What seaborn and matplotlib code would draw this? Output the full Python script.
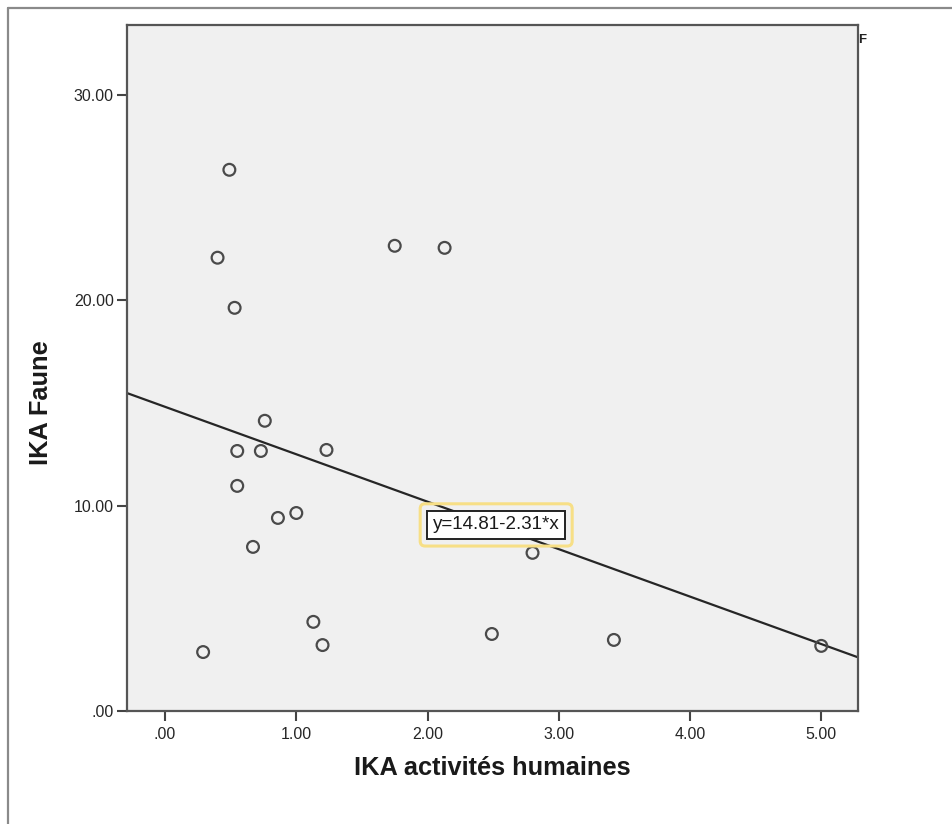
import numpy as np
import pandas as pd
import seaborn as sns
import matplotlib.pyplot as plt
from matplotlib.lines import Line2D
from matplotlib.patches import FancyBboxPatch
from matplotlib.transforms import IdentityTransform

# Survey data: human activity index vs. fauna index
ika_activites = [0.49, 0.40, 0.53, 1.75, 2.13, 0.76, 0.55, 0.73, 1.23, 0.55,
                 0.86, 1.00, 0.67, 2.80, 1.13, 1.20, 0.29, 2.49, 3.42, 5.00]
ika_faune = [26.35, 22.07, 19.63, 22.65, 22.55, 14.13, 12.66, 12.66, 12.71, 10.96,
             9.40, 9.64, 7.99, 7.70, 4.34, 3.21, 2.87, 3.75, 3.46, 3.17]

# Fitted linear model
intercept = 14.81
slope = -2.31

x_ticks = [0, 1, 2, 3, 4, 5]
x_tick_labels = [".00", "1.00", "2.00", "3.00", "4.00", "5.00"]
y_ticks = [0, 10, 20, 30]
y_tick_labels = [".00", "10.00", "20.00", "30.00"]

sns.set_theme(style="white")
plt.rcParams['font.family'] = ['Liberation Sans', 'DejaVu Sans']

W, H = 952, 824
fig = plt.figure(figsize=(W / 100, H / 100), dpi=100)
ax = fig.add_axes([127 / W, 1 - 711 / H, (858 - 127) / W, (711 - 25) / H])
ax.set_facecolor("#f0f0f0")

xlim = (-0.29, 5.28)
ylim = (0, 33.4)
ax.set_xlim(*xlim)
ax.set_ylim(*ylim)

df = pd.DataFrame({"x": ika_activites, "y": ika_faune})
sns.scatterplot(data=df, x="x", y="y", ax=ax, s=72, marker="o",
                facecolor="none", edgecolor="#4a4a4a", linewidth=1.6, zorder=3)

line_x = np.array(xlim)
line_df = pd.DataFrame({"x": line_x, "y": intercept + slope * line_x})
sns.lineplot(data=line_df, x="x", y="y", ax=ax, color="#262626", linewidth=1.6, zorder=2)

for side in ["left", "bottom", "top", "right"]:
    ax.spines[side].set_visible(True)
    ax.spines[side].set_color("#555555")
    ax.spines[side].set_linewidth(1.6)

ax.set_xticks(x_ticks)
ax.set_xticklabels(x_tick_labels)
ax.set_yticks(y_ticks)
ax.set_yticklabels(y_tick_labels)
ax.tick_params(axis="both", direction="out", length=7.5, width=1.5, color="#444444",
               labelsize=11.5, labelcolor="#262626", pad=2,
               left=True, bottom=True, top=False, right=False)
ax.tick_params(axis="x", pad=4)

ax.set_xlabel("IKA activités humaines", fontsize=18.3, fontweight="bold", color="#1a1a1a")
ax.set_ylabel("IKA Faune", fontsize=18.3, fontweight="bold", color="#1a1a1a")
ax.xaxis.set_label_coords(0.5, -0.066)
ax.yaxis.set_label_coords(-0.101, 0.45)

eq = ax.text(2.523, 9.06, f"y={intercept:.2f}-{abs(slope):.2f}*x", fontsize=13.5,
             ha="center", va="center", color="#1a1a1a", zorder=5,
             bbox=dict(boxstyle="square,pad=0.3", facecolor="white",
                       edgecolor="#222222", linewidth=1.4))

fig.text(862 / W, 1 - 40 / H, "F", fontsize=9.5, fontweight="bold",
         ha="center", va="center", color="#222222")

# Highlight frame around the equation label
fig.canvas.draw()
bb = eq.get_bbox_patch().get_window_extent()
m = 7
frame = FancyBboxPatch((bb.x0 - m, bb.y0 - m), bb.width + 2 * m, bb.height + 2 * m,
                       boxstyle="round,pad=0,rounding_size=5",
                       transform=IdentityTransform(), facecolor="none",
                       edgecolor="#f7df86", linewidth=2.2, zorder=4)
fig.add_artist(frame)

# Outer page border (top and left edges)
fig.add_artist(Line2D([8 / W, 8 / W], [0, 1 - 8 / H], color="#8a8a8a", linewidth=1.6))
fig.add_artist(Line2D([8 / W, 1], [1 - 8 / H, 1 - 8 / H], color="#8a8a8a", linewidth=1.6))

fig.savefig("out.png", dpi=100, facecolor="white")
